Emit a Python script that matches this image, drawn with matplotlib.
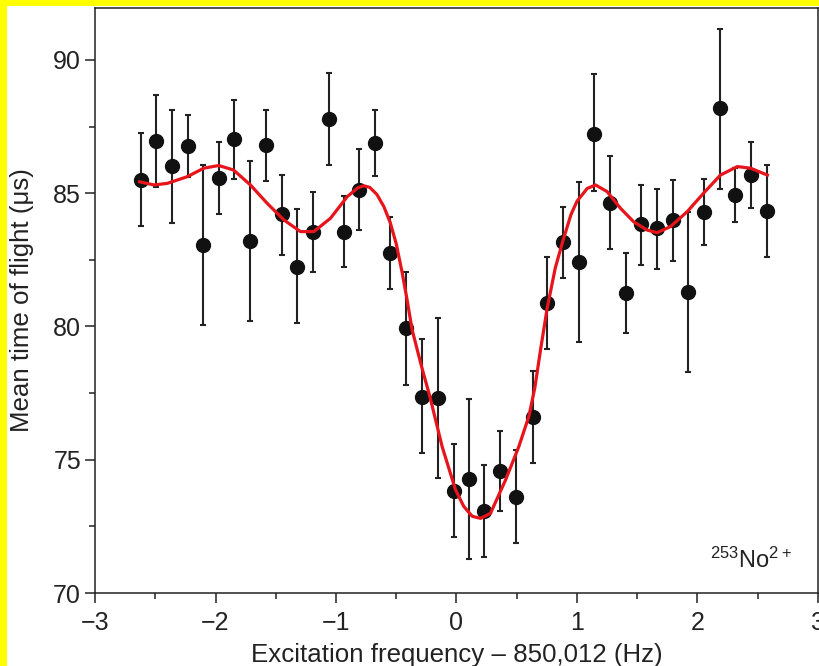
import matplotlib
matplotlib.use("Agg")
import matplotlib.pyplot as plt
from matplotlib.patches import Rectangle
from matplotlib.ticker import MultipleLocator

plt.rcParams['font.family'] = ['Liberation Sans', 'DejaVu Sans']
plt.rcParams['mathtext.fontset'] = 'custom'
plt.rcParams['mathtext.rm'] = 'Liberation Sans'

# measured points: frequency offset (Hz), mean TOF (us), error bar ends
freq = [-2.62, -2.49, -2.36, -2.23, -2.10, -1.97, -1.845, -1.71, -1.58, -1.45,
        -1.32, -1.19, -1.06, -0.935, -0.805, -0.678, -0.548, -0.417, -0.288, -0.152,
        -0.022, 0.105, 0.232, 0.363, 0.495, 0.631, 0.753, 0.882, 1.015, 1.145,
        1.272, 1.405, 1.535, 1.666, 1.795, 1.923, 2.052, 2.185, 2.315, 2.442, 2.573]
tof = [85.5, 86.96, 86.02, 86.78, 83.06, 85.58, 87.02, 83.2, 86.81, 84.21,
       82.24, 83.53, 87.79, 83.56, 85.12, 86.9, 82.77, 79.93, 77.37, 77.31,
       73.84, 74.27, 73.09, 74.59, 73.61, 76.62, 80.87, 83.16, 82.42, 87.22,
       84.65, 81.27, 83.83, 83.7, 84.0, 81.29, 84.28, 88.19, 84.93, 85.68, 84.35]
tof_hi = [87.25, 88.68, 88.12, 87.92, 86.05, 86.92, 88.5, 86.22, 88.14, 85.67,
          84.4, 85.03, 89.5, 84.9, 86.65, 88.11, 84.1, 82.05, 79.52, 80.31,
          75.58, 77.27, 74.81, 76.08, 75.37, 78.33, 82.6, 84.48, 85.42, 89.47,
          86.39, 82.74, 85.31, 85.16, 85.5, 84.29, 85.52, 91.16, 85.94, 86.92, 86.05]
tof_lo = [83.77, 85.22, 83.87, 85.6, 80.06, 84.22, 85.52, 80.22, 85.46, 82.68,
          80.12, 82.03, 86.06, 82.22, 83.62, 85.65, 81.4, 77.8, 75.24, 74.3,
          72.09, 71.26, 71.36, 73.08, 71.89, 74.87, 79.14, 81.81, 79.42, 85.1,
          82.92, 79.74, 82.31, 82.15, 82.46, 78.28, 83.06, 85.16, 83.91, 84.45, 82.6]

# fitted resonance curve
fit_x = [-2.63, -2.51, -2.40, -2.235, -2.097, -1.973, -1.85, -1.71, -1.571, -1.433,
         -1.295, -1.184, -1.046, -0.907, -0.82, -0.77, -0.72, -0.66, -0.603, -0.55,
         -0.50, -0.45, -0.41, -0.368, -0.29, -0.221, -0.119, -0.008, 0.06, 0.13,
         0.2, 0.282, 0.407, 0.517, 0.6, 0.65, 0.70, 0.753, 0.82, 0.882,
         0.95, 1.0, 1.085, 1.154, 1.25, 1.36, 1.47, 1.58, 1.666, 1.776,
         1.915, 2.05, 2.19, 2.33, 2.44, 2.58]
fit_y = [85.43, 85.31, 85.37, 85.62, 85.94, 86.04, 85.87, 85.31, 84.62, 84.0,
         83.56, 83.56, 84.06, 84.87, 85.2, 85.28, 85.22, 84.95, 84.5, 83.9,
         83.1, 82.0, 81.0, 79.87, 78.5, 77.37, 75.49, 73.87, 73.25, 72.88,
         72.8, 72.99, 74.24, 75.49, 76.62, 77.7, 79.2, 80.7, 82.2, 83.2,
         84.2, 84.7, 85.18, 85.31, 85.06, 84.44, 83.93, 83.62, 83.52, 83.75,
         84.31, 85.0, 85.68, 86.0, 85.94, 85.68]

err_lo = [t - l for t, l in zip(tof, tof_lo)]
err_hi = [h - t for t, h in zip(tof, tof_hi)]

fig = plt.figure(figsize=(8.2, 6.66), dpi=100)
fig.patch.set_facecolor('#ffff00')
fig.add_artist(Rectangle((7 / 820, 0), 1, 1 - 6 / 666, transform=fig.transFigure,
                         facecolor='white', edgecolor='none', zorder=-1))

ax = fig.add_axes([95 / 820, 1 - 593 / 666, 723 / 820, 585 / 666])

ax.errorbar(freq, tof, yerr=[err_lo, err_hi], fmt='o', color='#111111',
            ms=10, ecolor='#222222', elinewidth=1.5, capsize=2.5, capthick=1.5, zorder=2)
ax.plot(fit_x, fit_y, color='#e8141c', lw=2.3, solid_joinstyle='round', zorder=3)

ax.set_xlim(-3, 3)
ax.set_ylim(70, 91.95)
ax.xaxis.set_major_locator(MultipleLocator(1))
ax.xaxis.set_minor_locator(MultipleLocator(0.5))
ax.yaxis.set_major_locator(MultipleLocator(5))
ax.yaxis.set_minor_locator(MultipleLocator(2.5))

for s in ax.spines.values():
    s.set_linewidth(1.1)
    s.set_color('#222222')
ax.tick_params(which='major', direction='out', length=7, width=1.1, color='#222222',
               labelsize=18, labelcolor='#222222')
ax.tick_params(axis='x', which='major', pad=6)
ax.tick_params(axis='y', which='major', pad=3)
ax.tick_params(which='minor', direction='out', length=4, width=1.1, color='#222222')

ax.set_xlabel('Excitation frequency – 850,012 (Hz)', fontsize=18.6, color='#222222', labelpad=6)
ax.set_ylabel('Mean time of flight (μs)', fontsize=18.6, color='#222222')
ax.yaxis.set_label_coords(-0.084, 0.5)

ax.text(0.851, 0.043, r'$\mathregular{^{253}No^{2+}}$', transform=ax.transAxes,
        fontsize=17, ha='left', va='baseline', color='#222222')

fig.savefig('out.png', dpi=100, facecolor=fig.get_facecolor())
